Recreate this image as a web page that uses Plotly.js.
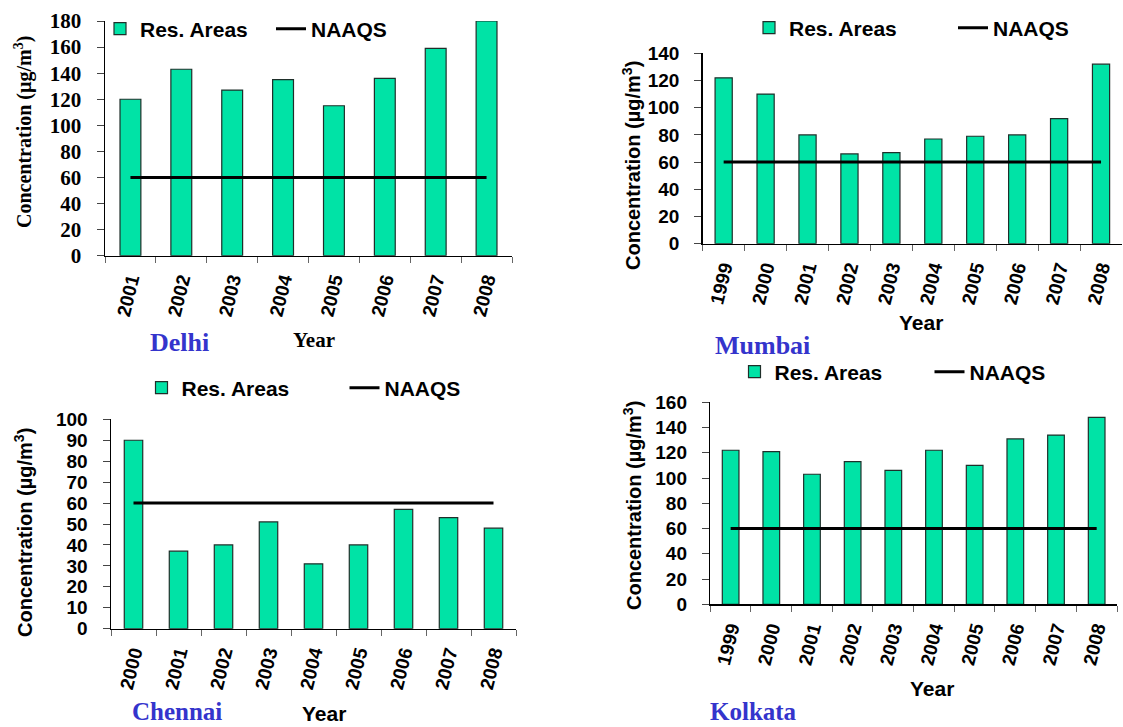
<!DOCTYPE html>
<html>
<head>
<meta charset="utf-8">
<script src="https://cdn.plot.ly/plotly-3.0.1.min.js"></script>
<style>html,body{margin:0;padding:0;background:#fff;}#chart{width:1123px;height:727px;}</style>
</head>
<body>
<div id="chart"></div>
<script>
// ---- data ----
const delhiYears   = ['2001','2002','2003','2004','2005','2006','2007','2008'];
const delhiValues  = [120, 143, 127, 135, 115, 136, 159, 180];
const mumbaiYears  = ['1999','2000','2001','2002','2003','2004','2005','2006','2007','2008'];
const mumbaiValues = [122, 110, 80, 66, 67, 77, 79, 80, 92, 132];
const chennaiYears  = ['2000','2001','2002','2003','2004','2005','2006','2007','2008'];
const chennaiValues = [90, 37, 40, 51, 31, 40, 57, 53, 48];
const kolkataYears  = ['1999','2000','2001','2002','2003','2004','2005','2006','2007','2008'];
const kolkataValues = [122, 121, 103, 113, 106, 122, 110, 131, 134, 148];
const naaqsLimit = 60;
const seriesNames = ['Res. Areas', 'NAAQS'];
const cityNames = ['Delhi', 'Mumbai', 'Chennai', 'Kolkata'];

// ---- styling ----
const W = 1123, H = 727;
const ARIAL = 'Arial, "Liberation Sans", sans-serif';
const TIMES = '"Times New Roman", "Liberation Serif", serif';
const barColor = '#00E3A6';
const px = v => v / W;
const py = v => 1 - v / H;

function panel(idx, years, values, legendId) {
  const xa = idx === 1 ? 'x' : 'x' + idx;
  const ya = idx === 1 ? 'y' : 'y' + idx;
  return [
    {type: 'bar', x: years, y: values, name: seriesNames[0], xaxis: xa, yaxis: ya,
     legend: legendId, marker: {color: barColor, line: {color: '#1f2f2a', width: 1.2}}},
    {type: 'scatter', mode: 'lines', x: years, y: years.map(() => naaqsLimit), name: seriesNames[1],
     xaxis: xa, yaxis: ya, legend: legendId, line: {color: '#000', width: 3}}
  ];
}

const data = [].concat(
  panel(1, delhiYears, delhiValues, 'legend'),
  panel(2, mumbaiYears, mumbaiValues, 'legend2'),
  panel(3, chennaiYears, chennaiValues, 'legend3'),
  panel(4, kolkataYears, kolkataValues, 'legend4')
);

function xAxis(domain, anchor, n) {
  return {domain: domain, anchor: anchor, type: 'category', range: [-0.5, n - 0.5],
    showline: true, linecolor: '#000', linewidth: 1.5, ticks: 'outside', tickson: 'boundaries',
    ticklen: 6, tickcolor: '#666', tickwidth: 1, showgrid: false, zeroline: false, automargin: false,
    tickangle: -76, ticklabelstandoff: 4,
    tickfont: {family: ARIAL, size: 19, color: '#000', weight: 'bold'}, fixedrange: true};
}
function yAxis(domain, anchor, max, dtick, fontFam, fsize, standoff) {
  return {domain: domain, anchor: anchor, range: [0, max], dtick: dtick, tick0: 0,
    showline: true, linecolor: '#000', linewidth: 1.5, ticks: 'outside', ticklen: 7,
    tickcolor: '#444', showgrid: false, zeroline: false, ticklabelstandoff: standoff, automargin: false,
    tickfont: {family: fontFam, size: fsize, color: '#000', weight: 'bold'}, fixedrange: true};
}
function legendAt(xStart, yCenter, entryW) {
  return {orientation: 'h', x: px(xStart), xanchor: 'left', y: py(yCenter), yanchor: 'middle',
    entrywidth: entryW, entrywidthmode: 'pixels', bgcolor: 'rgba(0,0,0,0)', borderwidth: 0,
    font: {family: ARIAL, size: 21, color: '#000', weight: 'bold'}, traceorder: 'normal'};
}
function ann(text, x, y, fam, size, color, angle) {
  return {text: text, xref: 'paper', yref: 'paper', x: px(x), y: py(y), xanchor: 'center', yanchor: 'middle',
    showarrow: false, textangle: angle || 0, font: {family: fam, size: size, color: color, weight: 'bold'}};
}
const yTitle = 'Concentration (µg/m<sup>3</sup>)';
const blue = '#3434CC';

const layout = {
  width: W, height: H, margin: {l: 0, r: 0, t: 0, b: 0, pad: 0, autoexpand: false},
  paper_bgcolor: '#fff', plot_bgcolor: '#fff', showlegend: true, bargap: 0.59,
  xaxis:  xAxis([px(105), px(512)], 'y', delhiYears.length),
  yaxis:  yAxis([py(255.7), py(21)], 'x', 180, 20, TIMES, 21, 11),
  xaxis2: xAxis([px(702.7), px(1122)], 'y2', mumbaiYears.length),
  yaxis2: yAxis([py(243.7), py(53.3)], 'x2', 140, 20, ARIAL, 19, 11),
  xaxis3: xAxis([px(111), px(516)], 'y3', chennaiYears.length),
  yaxis3: yAxis([py(628.7), py(419.3)], 'x3', 100, 10, ARIAL, 19, 11),
  xaxis4: xAxis([px(710.3), px(1117)], 'y4', kolkataYears.length),
  yaxis4: yAxis([py(604.3), py(402.3)], 'x4', 160, 20, ARIAL, 19, 11),
  legend:  legendAt(100, 29, 126),
  legend2: legendAt(749, 28, 159),
  legend3: legendAt(141.5, 388, 158),
  legend4: legendAt(734.5, 372, 150),
  annotations: [
    ann(yTitle, 23, 132, TIMES, 20, '#000', -90),
    ann(yTitle, 632, 166, ARIAL, 20, '#000', -90),
    ann(yTitle, 23, 533, ARIAL, 20, '#000', -90),
    ann(yTitle, 632, 506, ARIAL, 20, '#000', -90),
    ann('Year', 314, 340, TIMES, 21, '#000'),
    ann('Year', 921, 322, ARIAL, 21, '#000'),
    ann('Year', 324, 713, ARIAL, 21, '#000'),
    ann('Year', 932, 688, ARIAL, 21, '#000'),
    ann(cityNames[0], 179, 342, TIMES, 26, blue),
    ann(cityNames[1], 762, 345, TIMES, 26, blue),
    ann(cityNames[2], 177, 711, TIMES, 25, blue),
    ann(cityNames[3], 753, 711, TIMES, 25, blue)
  ]
};

Plotly.newPlot('chart', data, layout, {displayModeBar: false, staticPlot: true});
</script>
</body>
</html>
